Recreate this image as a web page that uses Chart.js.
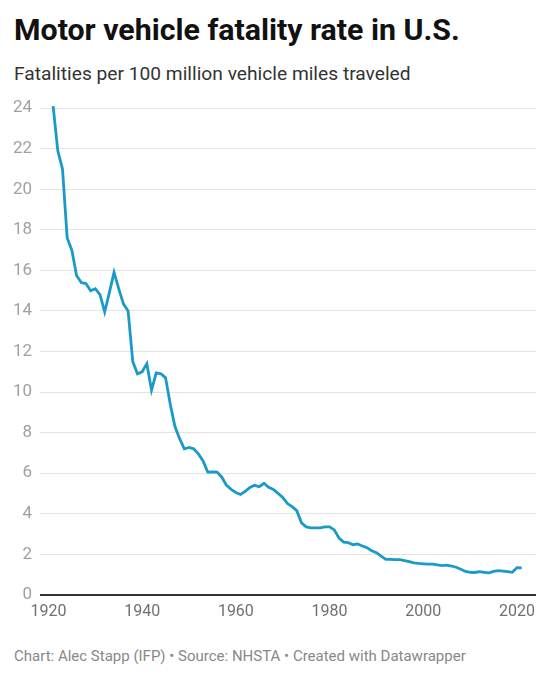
<!DOCTYPE html>
<html>
<head>
<meta charset="utf-8">
<script src="https://cdn.jsdelivr.net/npm/chart.js@4"></script>
<style>
  body { margin: 0; background: #fff; font-family: Roboto, sans-serif; }
  #wrap { position: relative; width: 553px; height: 680px; overflow: hidden; }
  #title { position: absolute; left: 14px; top: 12px; font-size: 30.3px; line-height: 35px; font-weight: 700; color: #111; white-space: nowrap; }
  #subtitle { position: absolute; left: 14px; top: 62px; font-size: 19.2px; line-height: 23px; color: #333; white-space: nowrap; }
  #footer { position: absolute; left: 14px; top: 647px; font-size: 15px; line-height: 18px; color: #888; white-space: nowrap; }
  #chart-box { position: absolute; left: 0; top: 90px; width: 553px; height: 540px; }
</style>
</head>
<body>
<div id="wrap">
  <div id="title">Motor vehicle fatality rate in U.S.</div>
  <div id="subtitle">Fatalities per 100 million vehicle miles traveled</div>
  <div id="chart-box"><canvas id="chart"></canvas></div>
  <div id="footer">Chart: Alec Stapp (IFP) • Source: NHSTA • Created with Datawrapper</div>
</div>
<script>
const years = [
  1921, 1922, 1923, 1924, 1925, 1926, 1927, 1928, 1929, 1930,
  1931, 1932, 1933, 1934, 1935, 1936, 1937, 1938, 1939, 1940,
  1941, 1942, 1943, 1944, 1945, 1946, 1947, 1948, 1949, 1950,
  1951, 1952, 1953, 1954, 1955, 1956, 1957, 1958, 1959, 1960,
  1961, 1962, 1963, 1964, 1965, 1966, 1967, 1968, 1969, 1970,
  1971, 1972, 1973, 1974, 1975, 1976, 1977, 1978, 1979, 1980,
  1981, 1982, 1983, 1984, 1985, 1986, 1987, 1988, 1989, 1990,
  1991, 1992, 1993, 1994, 1995, 1996, 1997, 1998, 1999, 2000,
  2001, 2002, 2003, 2004, 2005, 2006, 2007, 2008, 2009, 2010,
  2011, 2012, 2013, 2014, 2015, 2016, 2017, 2018, 2019, 2020,
  2021
];
const rates = [
  24.1, 21.9, 21.0, 17.6, 17.0, 15.75, 15.4, 15.35, 15.0, 15.1,
  14.8, 13.95, 14.9, 15.9, 15.1, 14.35, 14.0, 11.5, 10.9, 11.0,
  11.4, 10.1, 10.95, 10.9, 10.7, 9.4, 8.3, 7.7, 7.2, 7.27,
  7.2, 6.95, 6.6, 6.05, 6.06, 6.05, 5.8, 5.4, 5.2, 5.05,
  4.95, 5.1, 5.3, 5.4, 5.33, 5.5, 5.3, 5.2, 5.0, 4.8,
  4.5, 4.35, 4.15, 3.55, 3.35, 3.3, 3.3, 3.3, 3.35, 3.35,
  3.2, 2.8, 2.6, 2.57, 2.47, 2.51, 2.41, 2.32, 2.17, 2.08,
  1.91, 1.75, 1.75, 1.73, 1.73, 1.69, 1.64, 1.58, 1.55, 1.53,
  1.51, 1.51, 1.48, 1.44, 1.46, 1.42, 1.36, 1.26, 1.15, 1.11,
  1.10, 1.14, 1.11, 1.08, 1.15, 1.19, 1.17, 1.14, 1.11, 1.34,
  1.33
];
const yTicks = [0, 2, 4, 6, 8, 10, 12, 14, 16, 18, 20, 22, 24];
const xTicks = [1920, 1940, 1960, 1980, 2000, 2020];

const points = years.map((yr, i) => ({ x: yr, y: rates[i] }));

new Chart(document.getElementById("chart"), {
  type: "line",
  data: {
    datasets: [{
      data: points,
      borderColor: "#1a9ac6",
      borderWidth: 2.8,
      pointRadius: 0,
      tension: 0,
      clip: false
    }]
  },
  options: {
    responsive: true,
    maintainAspectRatio: false,
    animation: false,
    layout: { padding: { top: 18, right: 17, bottom: 0, left: 0 } },
    plugins: { legend: { display: false }, tooltip: { enabled: false } },
    scales: {
      x: {
        type: "linear",
        min: 1918.2,
        max: 2024.05,
        afterBuildTicks: (s) => { s.ticks = xTicks.map(v => ({ value: v })); },
        grid: { display: false, drawTicks: false },
        border: { display: false },
        ticks: {
          color: "#707070",
          font: { family: "Roboto", size: 16 },
          padding: 8,
          maxRotation: 0,
          callback: (v) => String(v)
        }
      },
      y: {
        min: 0,
        max: 24,
        afterBuildTicks: (s) => { s.ticks = yTicks.map(v => ({ value: v })); },
        afterFit: (s) => { s.width = 40; },
        grid: {
          color: (ctx) => ctx.tick && ctx.tick.value === 0 ? "#333" : "#e3e3e3",
          lineWidth: (ctx) => ctx.tick && ctx.tick.value === 0 ? 2 : 1,
          drawTicks: false
        },
        border: { display: false },
        ticks: {
          color: "#a0a0a0",
          font: { family: "Roboto", size: 17 },
          padding: 8
        }
      }
    }
  }
});
</script>
</body>
</html>
